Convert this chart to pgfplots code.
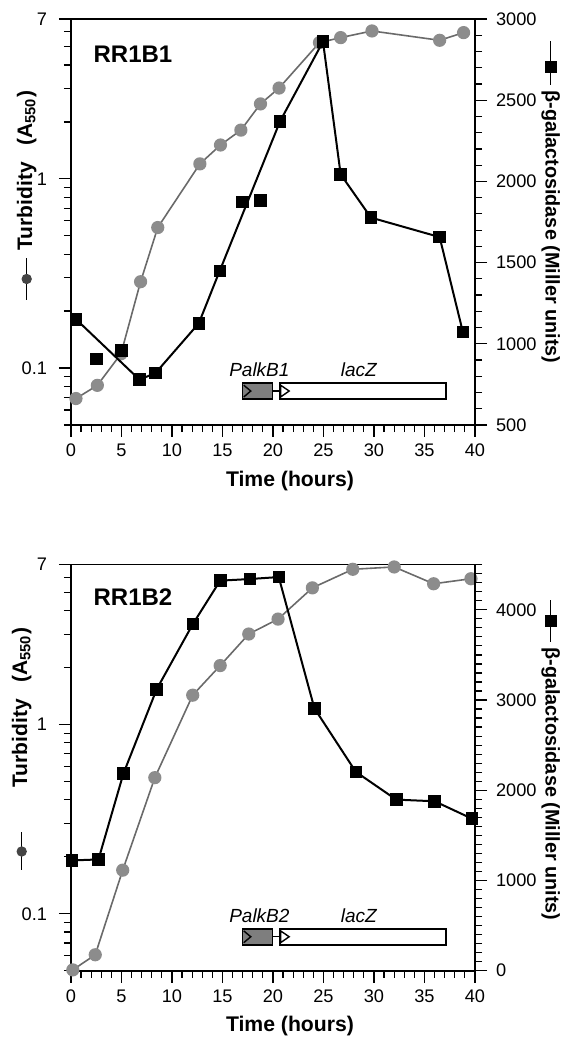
\documentclass[border=0pt]{standalone}
\usepackage{pgfplots}
\pgfplotsset{compat=1.18}
\usepackage{fontspec}
\setmainfont{Liberation Sans}
\definecolor{circfill}{HTML}{8C8C8C}
\definecolor{circline}{HTML}{6A6A6A}
\definecolor{legcirc}{HTML}{454545}
\definecolor{boxgray}{HTML}{7E7E7E}

\newcommand{\lbl}{\fontsize{10.5}{12}\selectfont\bfseries}

\pgfplotsset{
 mybase/.style={
  scale only axis, width=202pt, height=203pt,
  xmin=0, xmax=40, xtick={0,5,...,40}, minor x tick num=4,
  tick align=outside, major tick length=6pt, minor tick length=3.6pt,
  every tick/.append style={black, line width=0.6pt},
  axis line style={black, line width=0.8pt},
  tick label style={font=\fontsize{9.1}{10}\selectfont},
  /pgf/number format/assume math mode=true,
  /pgf/number format/1000 sep={},
  scaled ticks=false,
  clip=false,
 },
 myturb/.style={circline, line width=0.8pt, mark=*, mark size=2.9pt, mark options={fill=circfill, draw=circfill}},
 mygalline/.style={black, line width=1pt, mark=none},
 mygalmark/.style={only marks, mark=square*, mark size=2.9pt, black},
}

\newcommand{\genediagram}[1]{%
  \draw[black, line width=0.6pt] (axis cs:19.96,0.0756) -- (axis cs:20.7,0.0756);
  \draw[fill=boxgray, line width=0.8pt] (axis cs:17.0,0.0833) rectangle (axis cs:19.96,0.0686);
  \draw[line width=0.7pt] (axis cs:17.1,0.0812) -- (axis cs:17.8,0.0756) -- (axis cs:17.1,0.0703);
  \draw[fill=white, line width=0.8pt] (axis cs:20.7,0.0833) rectangle (axis cs:37.1,0.0686);
  \draw[fill=white, line width=0.7pt] (axis cs:20.75,0.0812) -- (axis cs:21.6,0.0756) -- (axis cs:20.75,0.0703) -- cycle;
  \node[font=\fontsize{9.5}{10}\selectfont\itshape] at (axis cs:18.65,0.098) {#1};
  \node[font=\fontsize{9.5}{10}\selectfont\itshape] at (axis cs:28.5,0.098) {lacZ};
}

\begin{document}
\begin{tikzpicture}
\path[use as bounding box] (0,0) rectangle (280.5pt,521pt);

% ---------------- top panel ----------------
\begin{axis}[mybase, ymode=log, ymin=0.05, ymax=7,
  ytick={0.1,1,7}, yticklabels={0.1,1,7},
  minor ytick={0.05,0.06,0.07,0.08,0.09,0.2,0.3,0.4,0.5,0.6,0.7,0.8,0.9,2,3,4,5,6},
  ytick pos=left, xtick pos=bottom, yticklabel style={xshift=-2.5pt},
  at={(35.5pt,308.5pt)}, anchor=south west]
\addplot[myturb] coordinates {
(0.49,0.069) (2.61,0.081) (4.95,0.119) (6.89,0.286) (8.59,0.553)
(12.76,1.20) (14.8,1.51) (16.82,1.81) (18.76,2.49) (20.6,3.02)
(24.6,5.25) (26.7,5.58) (29.8,6.05) (36.5,5.40) (38.87,5.93)};
\genediagram{PalkB1}
\end{axis}
\begin{axis}[mybase, axis x line=none, axis y line*=right, ytick pos=right,
  yticklabel style={xshift=1pt},
  at={(35.5pt,308.5pt)}, anchor=south west,
  ymin=500, ymax=3000, ytick={500,1000,...,3000}, minor ytick={500,600,...,3000}]
\addplot[mygalline] coordinates {
(0.5,1151) (6.78,779) (8.37,820) (12.65,1126) (14.73,1450) (20.7,2370)
(24.95,2861) (26.7,2043) (29.7,1777) (36.5,1657) (38.8,1072)};
\addplot[mygalmark] coordinates {
(0.5,1151) (2.5,907) (5.0,959) (6.78,779) (8.37,820) (12.65,1126)
(14.73,1450) (16.96,1874) (18.73,1882) (20.7,2370) (24.95,2861)
(26.7,2043) (29.7,1777) (36.5,1657) (38.8,1072)};
\end{axis}

% ---------------- bottom panel ----------------
\begin{axis}[mybase, ymode=log, ymin=0.05, ymax=7,
  ytick={0.1,1,7}, yticklabels={0.1,1,7},
  minor ytick={0.05,0.06,0.07,0.08,0.09,0.2,0.3,0.4,0.5,0.6,0.7,0.8,0.9,2,3,4,5,6},
  ytick pos=left, xtick pos=bottom, yticklabel style={xshift=-2.5pt},
  at={(35.5pt,35.65pt)}, anchor=south west]
\addplot[myturb] coordinates {
(0.18,0.0505) (2.4,0.0607) (5.12,0.170) (8.3,0.524) (12.05,1.43)
(14.77,2.05) (17.6,3.01) (20.5,3.61) (23.9,5.28) (27.9,6.62)
(32.0,6.81) (35.9,5.55) (39.6,5.90)};
\genediagram{PalkB2}
\end{axis}
\begin{axis}[mybase, axis x line=none, axis y line*=right, ytick pos=right,
  yticklabel style={xshift=1pt},
  at={(35.5pt,35.65pt)}, anchor=south west,
  ymin=0, ymax=4500, ytick={0,1000,...,4000}, minor ytick={0,100,...,4500}]
\addplot[mygalline] coordinates {
(0.07,1222) (2.72,1233) (5.19,2185) (8.48,3119) (12.08,3845) (14.77,4323)
(17.7,4341) (20.57,4363) (24.1,2908) (28.2,2204) (32.2,1896) (36.0,1878) (39.7,1685)};
\addplot[mygalmark] coordinates {
(0.07,1222) (2.72,1233) (5.19,2185) (8.48,3119) (12.08,3845) (14.77,4323)
(17.7,4341) (20.57,4363) (24.1,2908) (28.2,2204) (32.2,1896) (36.0,1878) (39.7,1685)};
\end{axis}

% ---------------- labels ----------------
\node[font=\fontsize{12}{13}\selectfont\bfseries] at (66.5pt,494pt) {RR1B1};
\node[font=\fontsize{12}{13}\selectfont\bfseries] at (66.5pt,222.25pt) {RR1B2};
\node[font=\fontsize{10.6}{12}\selectfont\bfseries] at (145pt,280.5pt) {Time (hours)};
\node[font=\fontsize{10.6}{12}\selectfont\bfseries] at (145pt,7.8pt) {Time (hours)};

% left labels (read bottom to top)
\node[rotate=90, anchor=west, inner sep=0pt, font=\lbl] at (13.35pt,395.5pt) {Turbidity\hspace{0.8em}(A\textsubscript{550})};
\draw[line width=0.6pt] (13.35pt,371pt) -- (13.35pt,392pt);
\fill[legcirc] (13.35pt,381.5pt) circle (2.6pt);
\node[rotate=90, anchor=west, inner sep=0pt, font=\lbl] at (10.85pt,127pt) {Turbidity\hspace{0.8em}(A\textsubscript{550})};
\draw[line width=0.6pt] (10.85pt,86pt) -- (10.85pt,105pt);
\fill[legcirc] (10.85pt,95.25pt) circle (2.6pt);

% right labels (read top to bottom)
\node[rotate=-90, anchor=west, inner sep=0pt, font=\fontsize{9.9}{12}\selectfont\bfseries] at (275.3pt,476pt) {β-galactosidase (Miller units)};
\draw[line width=0.6pt] (275.3pt,478.5pt) -- (275.3pt,500.5pt);
\fill[black] (272.3pt,484.7pt) rectangle (278.3pt,490.7pt);
\node[rotate=-90, anchor=west, inner sep=0pt, font=\fontsize{9.9}{12}\selectfont\bfseries] at (275.3pt,197.5pt) {β-galactosidase (Miller units)};
\draw[line width=0.6pt] (275.3pt,200pt) -- (275.3pt,221pt);
\fill[black] (272.3pt,207.5pt) rectangle (278.3pt,213.5pt);
\end{tikzpicture}
\end{document}
